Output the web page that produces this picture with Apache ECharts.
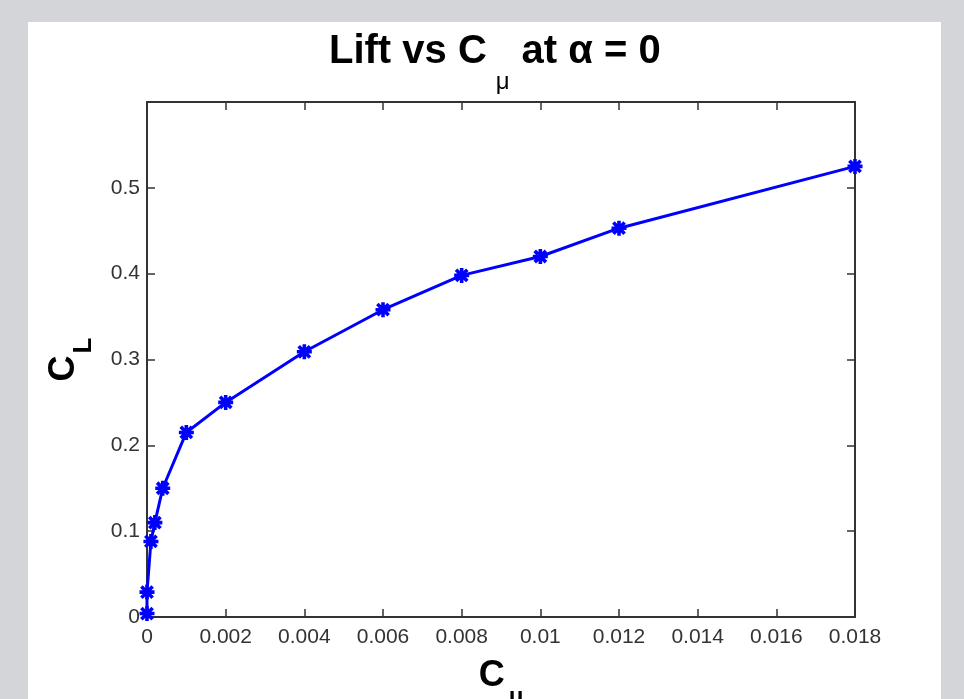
<!DOCTYPE html>
<html>
<head>
<meta charset="utf-8">
<script src="https://cdn.jsdelivr.net/npm/echarts@6/dist/echarts.min.js"></script>
<style>
html,body{margin:0;padding:0;background:#d3d5d8;}
#c{width:964px;height:699px;}
</style>
</head>
<body>
<div id="c"></div>
<script>
// Data
var cmu = [0, 0, 0.0001, 0.0002, 0.0004, 0.001, 0.002, 0.004, 0.006, 0.008, 0.010, 0.012, 0.018];
var cl  = [0.004, 0.029, 0.088, 0.110, 0.150, 0.215, 0.250, 0.309, 0.358, 0.398, 0.420, 0.453, 0.525];
var xTicks = ['0','0.002','0.004','0.006','0.008','0.01','0.012','0.014','0.016','0.018'];
var yTicks = ['0','0.1','0.2','0.3','0.4','0.5'];

var pts = cmu.map(function(x, i){ return [x, cl[i]]; });
var star = 'path://M0 3.8L10 3.8L10 6.2L0 6.2Z M3.8 0L6.2 0L6.2 10L3.8 10Z M2.1 0.4L9.6 7.9L7.9 9.6L0.4 2.1Z M7.9 0.4L9.6 2.1L2.1 9.6L0.4 7.9Z';
var font = 'Liberation Sans';
var axisColor = '#333333';

var chart = echarts.init(document.getElementById('c'), null, {renderer:'canvas'});
var grid = {left:147, right:109, top:102, bottom:82, containLabel:false, outerBoundsMode:'none'};
chart.setOption({
  backgroundColor: '#d3d5d8',
  animation: false,
  graphic: [{type:'rect', z:-10, shape:{x:28, y:22, width:913, height:700}, style:{fill:'#ffffff'}}],
  title: {
    text: 'Lift vs C{sub|μ}at α = 0',
    left: 324, top: 5,
    textStyle: {
      fontFamily: font, fontSize: 40, fontWeight: 'bold', color: '#000',
      rich: { sub: { fontFamily: font, fontSize: 24, fontWeight: 'normal', color:'#000', padding:[60,12,0,9] } }
    }
  },
  grid: grid,
  xAxis: [{
    type:'value', min:0, max:0.018, interval:0.002, position:'bottom',
    name: 'C{sub|μ}', nameLocation:'middle', nameGap: 26,
    nameTextStyle: {fontFamily:font, fontSize:36, fontWeight:'bold', color:'#000',
      rich:{ sub:{fontFamily:font, fontSize:24, fontWeight:'bold', color:'#000', padding:[42,0,0,4]} } },
    axisLine:{show:true, onZero:false, lineStyle:{color:axisColor, width:2}},
    axisTick:{show:true, inside:true, length:8, lineStyle:{color:axisColor, width:1.5}},
    axisLabel:{fontFamily:font, fontSize:21, color:'#333', margin:10,
      formatter:function(v){ var i=Math.round(v/0.002); return xTicks[i]; }},
    splitLine:{show:false}
  },{
    type:'value', min:0, max:0.018, interval:0.002, position:'top',
    axisLine:{show:true, onZero:false, lineStyle:{color:axisColor, width:2}},
    axisTick:{show:true, inside:true, length:8, lineStyle:{color:axisColor, width:1.5}},
    axisLabel:{show:false}, splitLine:{show:false}
  }],
  yAxis: [{
    type:'value', min:0, max:0.6, interval:0.1, position:'left',
    name: 'C{sub|L}', nameLocation:'middle', nameGap: 50, nameRotate: 90,
    nameTextStyle: {fontFamily:font, fontSize:36, fontWeight:'bold', color:'#000',
      rich:{ sub:{fontFamily:font, fontSize:26, fontWeight:'bold', color:'#000', padding:[40,0,0,2]} } },
    axisLine:{show:true, onZero:false, lineStyle:{color:axisColor, width:2}},
    axisTick:{show:true, inside:true, length:8, lineStyle:{color:axisColor, width:1.5}},
    axisLabel:{fontFamily:font, fontSize:21, color:'#333', margin:7,
      formatter:function(v){ var i=Math.round(v/0.1); return i < yTicks.length ? yTicks[i] : ''; }},
    splitLine:{show:false}
  },{
    type:'value', min:0, max:0.6, interval:0.1, position:'right',
    axisLine:{show:true, onZero:false, lineStyle:{color:axisColor, width:2}},
    axisTick:{show:true, inside:true, length:8, lineStyle:{color:axisColor, width:1.5}},
    axisLabel:{show:false}, splitLine:{show:false}
  }],
  series: [{
    type:'line', xAxisIndex:0, yAxisIndex:0, data: pts,
    symbol: star, symbolSize: 15, showAllSymbol:true,
    lineStyle:{color:'#0000ff', width:3},
    itemStyle:{color:'#0000ff'},
    z: 5
  }]
});
</script>
</body>
</html>
